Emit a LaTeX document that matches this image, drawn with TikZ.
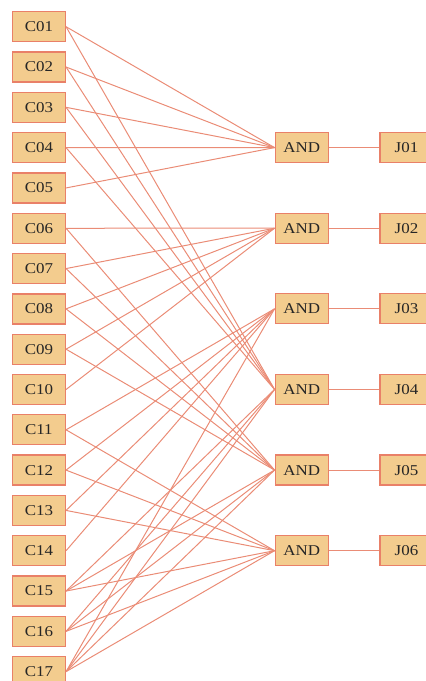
\documentclass[tikz,border=0pt]{standalone}
\usepackage{fontspec}
\setmainfont{Liberation Serif}
\definecolor{boxfill}{RGB}{243,204,142}
\definecolor{boxline}{RGB}{233,128,104}
\definecolor{edgecol}{RGB}{234,140,118}
\newcommand\sx[1]{\scalebox{1.13}[1]{#1}}
\begin{document}
\begin{tikzpicture}[x=1pt,y=1pt,
  box/.style={draw=boxline, line width=1.3pt, fill=boxfill, minimum width=53pt,
    minimum height=30pt, inner sep=0pt, font=\fontsize{15}{15}\selectfont, text=black!85},
  link/.style={draw=edgecol, line width=1pt}]
\useasboundingbox (0,0) rectangle (426,-681);
% condition nodes
\foreach \i/\t in {1/C01,2/C02,3/C03,4/C04,5/C05,6/C06,7/C07,8/C08,9/C09,10/C10,11/C11,12/C12,13/C13,14/C14,15/C15,16/C16,17/C17}
  \node[box] (c\i) at (38.9,{-26.7-(\i-1)*40.31}) {\sx{\t}};
% AND and job nodes
\foreach \k/\t in {1/J01,2/J02,3/J03,4/J04,5/J05,6/J06} {
  \node[box] (a\k) at (301.7,{-147.6-(\k-1)*80.62}) {\sx{AND}};
  \node[box] (j\k) at (406.5,{-147.6-(\k-1)*80.62}) {\sx{\t}};
  \draw[link] (a\k.east) -- (j\k.west);
}
% inputs
\foreach \k/\lst in {1/{1,2,3,4,5},2/{6,7,8,9,10},3/{11,12,13,14,17},4/{1,2,3,4,15,16,17},5/{6,7,8,9,15,16,17},6/{11,12,13,15,16,17}}
  \foreach \i in \lst
    \draw[link] (c\i.east) -- (a\k.west);
\end{tikzpicture}
\end{document}
